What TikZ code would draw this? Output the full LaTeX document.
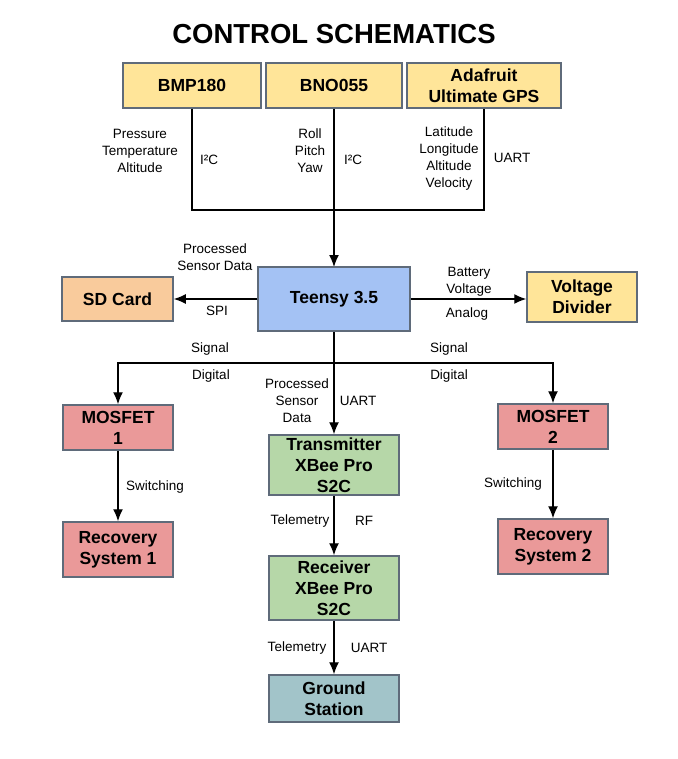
\documentclass[tikz,border=0pt]{standalone}
\usepackage{fontspec}
\setmainfont{Liberation Sans}
\usetikzlibrary{arrows.meta}
\definecolor{sensorfill}{HTML}{FFE599}
\definecolor{mcufill}{HTML}{A4C2F4}
\definecolor{sdfill}{HTML}{F9CB9C}
\definecolor{relayfill}{HTML}{EA9999}
\definecolor{radiofill}{HTML}{B6D7A8}
\definecolor{groundfill}{HTML}{A2C4C9}
\definecolor{edge}{HTML}{5F6B7A}
\tikzset{
  block/.style={draw=edge, line width=1.5pt, inner sep=0pt, align=center,
    font=\fontsize{17.5}{21}\selectfont\bfseries},
  lbl/.style={inner sep=0pt, align=center, font=\fontsize{13.5}{17}\selectfont},
  wire/.style={line width=1.4pt}
}
\begin{document}
\begin{tikzpicture}[x=1pt, y=-1pt, >={Latex[length=12pt,width=10pt]}]
\useasboundingbox (0,0) rectangle (677,759);
\node (title) at (334,34) {\fontsize{27.5}{30}\selectfont\bfseries CONTROL SCHEMATICS};
% sensors
\node[block, fill=sensorfill, minimum width=138, minimum height=45] (bmp) at (192,85.5) {BMP180};
\node[block, fill=sensorfill, minimum width=136, minimum height=45] (bno) at (334,85.5) {BNO055};
\node[block, fill=sensorfill, minimum width=154, minimum height=45] (gps) at (484,85.5) {Adafruit\\Ultimate GPS};
\coordinate (bus) at (334,210);
\draw[wire] (bmp.south) |- (bus) -| (gps.south);
\draw[wire,->] (bno.south) -- (334,267);
\node[lbl] (lbmp) at (140,151) {Pressure\\Temperature\\Altitude};
\node[lbl] (lbmpbus) at (209,160) {I²C};
\node[lbl] (lbno) at (310,151) {Roll\\Pitch\\Yaw};
\node[lbl] (lbnobus) at (353,160) {I²C};
\node[lbl] (lgps) at (449,158.5) {Latitude\\Longitude\\Altitude\\Velocity};
\node[lbl] (lgpsbus) at (512,158) {UART};
% controller
\node[block, fill=mcufill, minimum width=152, minimum height=64] (teensy) at (334,299) {Teensy 3.5};
\node[block, fill=sdfill, minimum width=111, minimum height=44] (sd) at (117.5,299) {SD Card};
\node[block, fill=sensorfill, minimum width=110, minimum height=50] (vdiv) at (582,297) {Voltage\\Divider};
\draw[wire,->] (teensy.west) -- (sd.east);
\draw[wire,->] (teensy.east) -- (vdiv.west |- teensy.east);
\node[lbl] (lsd) at (215,257.5) {Processed\\Sensor Data};
\node[lbl] (lspi) at (217,311) {SPI};
\node[lbl] (lbat) at (469,281.5) {Battery\\Voltage};
\node[lbl] (lanalog) at (467,314) {Analog};
% outputs
\node[block, fill=relayfill, minimum width=110, minimum height=45] (mos1) at (118,427.5) {MOSFET\\1};
\node[block, fill=relayfill, minimum width=110, minimum height=45] (mos2) at (553,426.5) {MOSFET\\2};
\node[block, fill=relayfill, minimum width=110, minimum height=55] (rec1) at (118,549.5) {Recovery\\System 1};
\node[block, fill=relayfill, minimum width=110, minimum height=55] (rec2) at (553,546.5) {Recovery\\System 2};
\node[block, fill=radiofill, minimum width=130, minimum height=60] (tx) at (334,465) {Transmitter\\XBee Pro\\S2C};
\node[block, fill=radiofill, minimum width=130, minimum height=64] (rx) at (334,588) {Receiver\\XBee Pro\\S2C};
\node[block, fill=groundfill, minimum width=130, minimum height=47] (gs) at (334,698.5) {Ground\\Station};
\coordinate (split) at (334,363);
\draw[wire] (teensy.south) -- (split);
\draw[wire,->] (split) -| (mos1.north);
\draw[wire,->] (split) -| (mos2.north);
\draw[wire,->] (split) -- (tx.north);
\draw[wire,->] (mos1) -- (rec1);
\draw[wire,->] (mos2) -- (rec2);
\draw[wire,->] (tx) -- (rx);
\draw[wire,->] (rx) -- (gs);
\node[lbl] (lsig1) at (210,349) {Signal};
\node[lbl] (ldig1) at (211,376) {Digital};
\node[lbl] (lsig2) at (449,349) {Signal};
\node[lbl] (ldig2) at (449,376) {Digital};
\node[lbl] (ltx) at (297,401) {Processed\\Sensor\\Data};
\node[lbl] (luart) at (358,401) {UART};
\node[lbl] (lsw1) at (155,487) {Switching};
\node[lbl] (lsw2) at (513,484) {Switching};
\node[lbl] (ltel1) at (300,521) {Telemetry};
\node[lbl] (lrf) at (364,521) {RF};
\node[lbl] (ltel2) at (297,648) {Telemetry};
\node[lbl] (luart2) at (369,648) {UART};
\end{tikzpicture}
\end{document}
